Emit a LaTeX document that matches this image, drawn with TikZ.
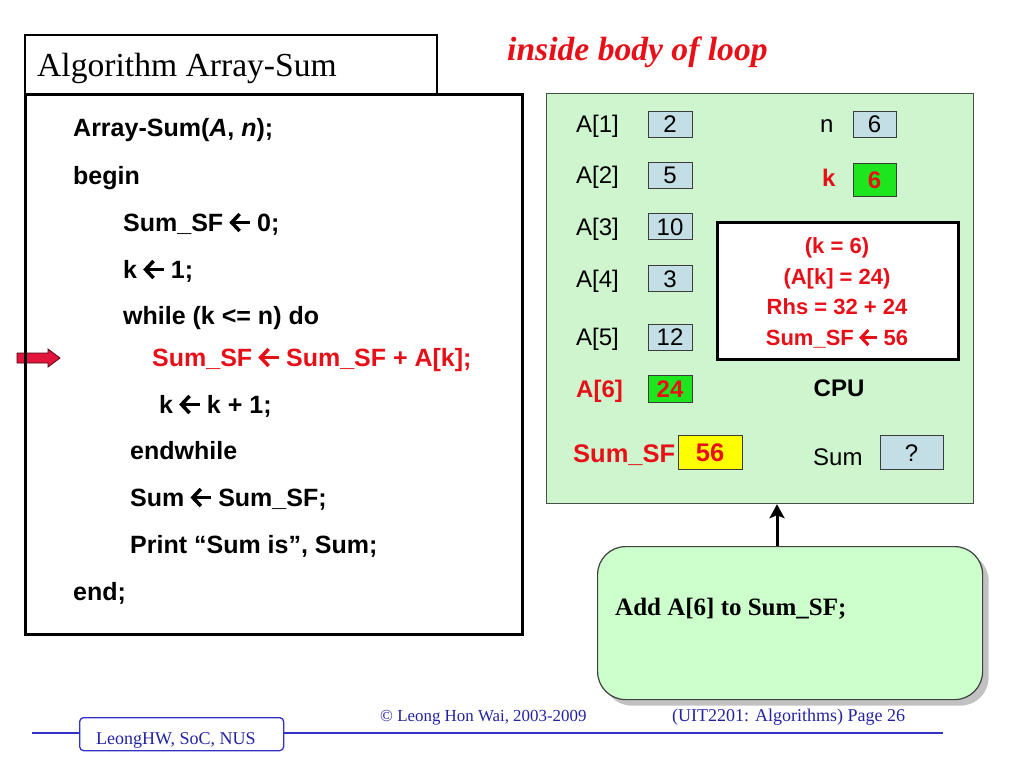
\documentclass[tikz,border=0pt]{standalone}
\usepackage{fontspec}
\setmainfont{Liberation Serif}
\newfontfamily\arial{Liberation Sans}
\usetikzlibrary{arrows.meta,shadows}
\definecolor{myred}{RGB}{232,16,24}
\definecolor{panelgreen}{RGB}{206,245,206}
\definecolor{calloutgreen}{RGB}{204,255,204}
\definecolor{cellblue}{RGB}{195,222,228}
\definecolor{celledge}{RGB}{60,60,60}
\definecolor{cellgreen}{RGB}{30,230,30}
\definecolor{cellyellow}{RGB}{255,255,0}
\definecolor{crimson}{RGB}{226,20,60}
\definecolor{footblue}{RGB}{50,50,200}
\definecolor{foottext}{RGB}{35,35,160}
\definecolor{paneledge}{RGB}{70,80,70}
\newcommand{\lar}{\tikz[x=0.04em,y=0.04em,baseline=0pt]{%
  \path[use as bounding box] (0,0) rectangle (20,18);%
  \draw[line width=0.14em, line cap=butt, line join=miter] (9.5,17) -- (1.5,8.5) -- (9.5,0);%
  \draw[line width=0.14em, line cap=butt] (2,8.5) -- (19.5,8.5);}}
\tikzset{
  code/.style={anchor=base west, inner sep=0, font=\arial\bfseries\fontsize{25}{30}\selectfont},
  redcode/.style={code, text=myred},
  lbl/.style={anchor=base west, inner sep=0, font=\arial\fontsize{24}{28}\selectfont},
  redlbl/.style={anchor=base west, inner sep=0, text=myred, font=\arial\bfseries\fontsize{24}{28}\selectfont},
  val/.style={anchor=base, inner sep=0, font=\arial\fontsize{24}{28}\selectfont},
  redval/.style={anchor=base, inner sep=0, text=myred, font=\arial\bfseries\fontsize{24}{28}\selectfont},
  cpuline/.style={anchor=base, inner sep=0, text=myred, font=\arial\bfseries\fontsize{22}{26}\selectfont},
  cellbox/.style={draw=celledge, line width=1.2pt, inner sep=0, anchor=north west},
  foot/.style={inner sep=0, text=foottext}
}
\begin{document}
\begin{tikzpicture}[x=1pt,y=-1pt]
\useasboundingbox[fill=white] (0,0) rectangle (1024,768);

% pointer arrow (drawn first so the box border lies over it)
\fill[crimson, draw=black!65!crimson, line width=0.8pt, line join=miter]
  (17,353) -- (48,353) -- (48,349) -- (60,358) -- (48,367) -- (48,363) -- (17,363) -- cycle;

% title box and code box
\node[draw=black, line width=2pt, inner sep=0, anchor=north west, minimum width=412pt, minimum height=59pt] (titlebox) at (24,34) {};
\node[anchor=base west, inner sep=0, font=\fontsize{33.6}{38}\selectfont] (title) at (37,76.5) {Algorithm Array-Sum};
\node[draw=black, line width=3pt, inner sep=0, anchor=north west, minimum width=497pt, minimum height=540pt] (codebox) at (24,93) {};

\node[anchor=base west, inner sep=0, text=myred, font=\bfseries\itshape\fontsize{33.6}{38}\selectfont] (hdr) at (507,60) {inside body of loop};

% code lines
\node[code] (l1) at (73,136) {Array-Sum(\textit{A}, \textit{n});};
\node[code] (l2) at (73,184) {begin};
\node[code] (l3) at (123,231) {Sum\_SF \lar{} 0;};
\node[code] (l4) at (123,278) {k \lar{} 1;};
\node[code] (l5) at (123,324) {while (k <= n) do};
\node[redcode] (l6) at (152,366) {Sum\_SF \lar{} Sum\_SF + A[k];};
\node[code] (l7) at (159,413) {k \lar{} k + 1;};
\node[code] (l8) at (130,459) {endwhile};
\node[code] (l9) at (130,506) {Sum \lar{} Sum\_SF;};
\node[code] (l10) at (130,553) {Print “Sum is”, Sum;};
\node[code] (l11) at (73,600) {end;};

% right panel
\node[draw=paneledge, line width=1.2pt, fill=panelgreen, inner sep=0, anchor=north west, minimum width=427pt, minimum height=410pt] (panel) at (546,93) {};

% array labels and cells
\node[lbl] (la1) at (576,132) {A[1]};
\node[cellbox, fill=cellblue, minimum width=44pt, minimum height=26pt] (c1) at (648,111) {};
\node[val] (v1) at (670,132) {2};
\node[lbl] (la2) at (576,183) {A[2]};
\node[cellbox, fill=cellblue, minimum width=44pt, minimum height=26pt] (c2) at (648,162) {};
\node[val] (v2) at (670,183) {5};
\node[lbl] (la3) at (576,235) {A[3]};
\node[cellbox, fill=cellblue, minimum width=44pt, minimum height=26pt] (c3) at (648,213) {};
\node[val] (v3) at (670,235) {10};
\node[lbl] (la4) at (576,287) {A[4]};
\node[cellbox, fill=cellblue, minimum width=44pt, minimum height=26pt] (c4) at (648,265) {};
\node[val] (v4) at (670,287) {3};
\node[lbl] (la5) at (576,345) {A[5]};
\node[cellbox, fill=cellblue, minimum width=44pt, minimum height=26pt] (c5) at (648,324) {};
\node[val] (v5) at (670,345) {12};
\node[redlbl] (la6) at (576,397) {A[6]};
\node[cellbox, fill=cellgreen, minimum width=44pt, minimum height=27pt] (c6) at (648,375) {};
\node[redval] (v6) at (670,397) {24};

% n and k
\node[lbl] (ln) at (820,132) {n};
\node[cellbox, fill=cellblue, minimum width=43pt, minimum height=26pt] (cn) at (853,111) {};
\node[val] (vn) at (874.5,132) {6};
\node[redlbl] (lk) at (822,186) {k};
\node[cellbox, fill=cellgreen, minimum width=43pt, minimum height=33pt] (ck) at (853,163) {};
\node[redval] (vk) at (874.5,188) {6};

% CPU box
\node[draw=black, line width=3pt, fill=white, inner sep=0, anchor=north west, minimum width=241pt, minimum height=137pt] (cpubox) at (716,221) {};
\node[cpuline] (p1) at (837,253) {(k = 6)};
\node[cpuline] (p2) at (837,284) {(A[k] = 24)};
\node[cpuline] (p3) at (837,314.5) {Rhs = 32 + 24};
\node[cpuline] (p4) at (837,345) {Sum\_SF \lar{} 56};
\node[anchor=base, inner sep=0, font=\arial\bfseries\fontsize{24}{28}\selectfont] (cpu) at (839,396) {CPU};

% Sum_SF and Sum
\node[anchor=base west, inner sep=0, text=myred, font=\arial\bfseries\fontsize{25.5}{30}\selectfont] (lsf) at (573,462) {Sum\_SF};
\node[cellbox, fill=cellyellow, minimum width=64pt, minimum height=34pt] (csf) at (678,435) {};
\node[anchor=base, inner sep=0, text=myred, font=\arial\bfseries\fontsize{25.5}{30}\selectfont] (vsf) at (710,461) {56};
\node[lbl] (lsum) at (813,465) {Sum};
\node[cellbox, fill=cellblue, minimum width=63pt, minimum height=34pt] (csum) at (880,435) {};
\node[val] (vsum) at (911.5,461) {?};

% callout
\node[draw=black!75, line width=1.2pt, fill=calloutgreen, rounded corners=28pt, inner sep=0, anchor=north west,
      minimum width=385pt, minimum height=153pt,
      drop shadow={shadow xshift=6pt, shadow yshift=-6pt, opacity=0.4, fill=black!60}] (callout) at (597,546) {};
\node[anchor=base west, inner sep=0, font=\bfseries\fontsize{25}{30}\selectfont] (ctext) at (615,615) {Add A[6] to Sum\_SF;};
\coordinate (ax) at (777,0);
\draw[line width=3pt, -{Stealth[length=14pt,width=15pt,inset=3pt]}] (callout.north -| ax) -- (panel.south -| ax);

% footer
\coordinate (fl) at (32,733);
\coordinate (fr) at (943,733);
\draw[footblue, line width=1.5pt] (fl) -- (fr);
\node[draw=footblue, line width=1.3pt, fill=white, rounded corners=4pt, inner sep=0, anchor=north west,
      minimum width=204pt, minimum height=33pt] (fbox) at (79,717) {};
\node[foot, anchor=base west, font=\fontsize{18}{22}\selectfont] (fname) at (96,744) {LeongHW, SoC, NUS};
\node[foot, anchor=base west, font=\fontsize{16.9}{20}\selectfont] (copy) at (380,721) {© Leong Hon Wai, 2003-2009};
\node[foot, anchor=base west, font=\fontsize{18}{22}\selectfont] (page) at (672,721) {(UIT2201: Algorithms) Page 26};
\end{tikzpicture}
\end{document}
